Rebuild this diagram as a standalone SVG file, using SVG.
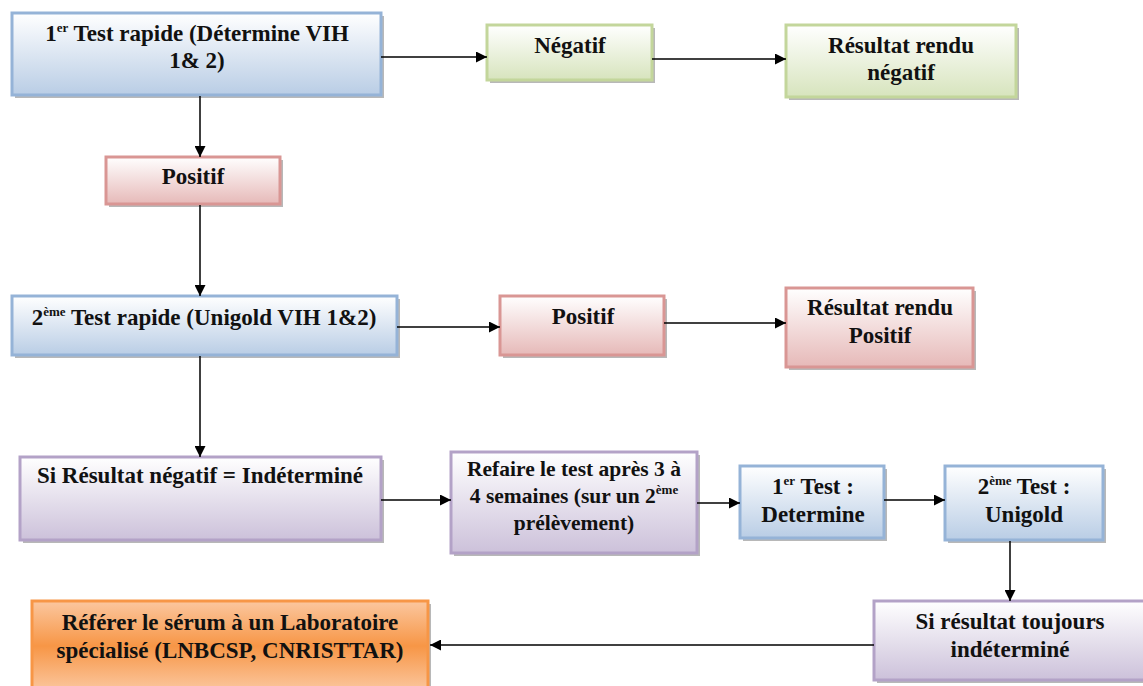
<svg xmlns="http://www.w3.org/2000/svg" width="1143" height="686" viewBox="0 0 1143 686">
<defs>
<linearGradient id="gBlue" x1="0" y1="0" x2="0" y2="1"><stop offset="0" stop-color="#ffffff"/><stop offset="1" stop-color="#b9cde5"/></linearGradient>
<linearGradient id="gGreen" x1="0" y1="0" x2="0" y2="1"><stop offset="0" stop-color="#ffffff"/><stop offset="1" stop-color="#d7e4bd"/></linearGradient>
<linearGradient id="gPink" x1="0" y1="0" x2="0" y2="1"><stop offset="0" stop-color="#ffffff"/><stop offset="1" stop-color="#e6b9b8"/></linearGradient>
<linearGradient id="gPurple" x1="0" y1="0" x2="0" y2="1"><stop offset="0" stop-color="#ffffff"/><stop offset="1" stop-color="#ccc1da"/></linearGradient>
<linearGradient id="gOrange" x1="0" y1="0" x2="0" y2="1"><stop offset="0" stop-color="#fbc79f"/><stop offset="0.5" stop-color="#f79646"/><stop offset="1" stop-color="#fbc79f"/></linearGradient>
<marker id="arr" viewBox="0 0 10 10" refX="10" refY="5" markerWidth="11" markerHeight="11" markerUnits="userSpaceOnUse" orient="auto"><path d="M0,0 L10,5 L0,10 z" fill="#000"/></marker>
</defs>
<style>
.sh{fill:#9a9a9a;opacity:0.7}
.blue{fill:url(#gBlue);stroke:#95b3d7;stroke-width:3}
.green{fill:url(#gGreen);stroke:#c3d69b;stroke-width:3}
.pink{fill:url(#gPink);stroke:#d99694;stroke-width:3}
.purple{fill:url(#gPurple);stroke:#b3a2c7;stroke-width:3}
.orange{fill:url(#gOrange);stroke:#f79646;stroke-width:3}
.t{font-family:"Liberation Serif","Times New Roman",serif;font-weight:bold;font-size:23px;fill:#111;text-anchor:middle}
.s{font-size:21.5px}
.sup{font-size:13px}
.c{stroke:#000;stroke-width:1.5;fill:none;marker-end:url(#arr)}
</style>
<rect width="1143" height="686" fill="#fff"/>

<g id="n1">
<rect class="sh" x="15" y="16" width="369" height="82"/>
<rect class="blue" x="12" y="13" width="369" height="82"/>
<text class="t" x="197" y="41">1<tspan class="sup" dy="-9">er</tspan><tspan dy="9"> Test rapide (Détermine VIH</tspan></text>
<text class="t" x="197" y="68">1&amp; 2)</text>
</g>

<g id="n2">
<rect class="sh" x="490" y="28" width="165" height="55"/>
<rect class="green" x="487" y="25" width="165" height="55"/>
<text class="t" x="570" y="53">Négatif</text>
</g>

<g id="n3">
<rect class="sh" x="789" y="28" width="230" height="72"/>
<rect class="green" x="786" y="25" width="230" height="72"/>
<text class="t" x="901" y="53">Résultat rendu</text>
<text class="t" x="901" y="80">négatif</text>
</g>

<g id="n4">
<rect class="sh" x="109" y="160" width="174" height="47"/>
<rect class="pink" x="106" y="157" width="174" height="47"/>
<text class="t" x="193" y="184">Positif</text>
</g>

<g id="n5">
<rect class="sh" x="15" y="299" width="385" height="59"/>
<rect class="blue" x="12" y="296" width="385" height="59"/>
<text class="t" x="204" y="325">2<tspan class="sup" dy="-9">ème</tspan><tspan dy="9"> Test rapide (Unigold VIH 1&amp;2)</tspan></text>
</g>

<g id="n6">
<rect class="sh" x="503" y="299" width="164" height="59"/>
<rect class="pink" x="500" y="296" width="164" height="59"/>
<text class="t" x="583" y="324">Positif</text>
</g>

<g id="n7">
<rect class="sh" x="789" y="291" width="187" height="79"/>
<rect class="pink" x="786" y="288" width="187" height="79"/>
<text class="t" x="880" y="315">Résultat rendu</text>
<text class="t" x="880" y="343">Positif</text>
</g>

<g id="n8">
<rect class="sh" x="23" y="460" width="361" height="83"/>
<rect class="purple" x="20" y="457" width="361" height="83"/>
<text class="t" x="200" y="483">Si Résultat négatif = Indéterminé</text>
</g>

<g id="n9">
<rect class="sh" x="454" y="455" width="246" height="101"/>
<rect class="purple" x="451" y="452" width="246" height="101"/>
<text class="t s" x="574" y="476">Refaire le test après 3 à</text>
<text class="t s" x="574" y="503">4 semaines (sur un 2<tspan class="sup" dy="-9">ème</tspan></text>
<text class="t s" x="574" y="530">prélèvement)</text>
</g>

<g id="n10">
<rect class="sh" x="743" y="469" width="144" height="72"/>
<rect class="blue" x="740" y="466" width="144" height="72"/>
<text class="t" x="813" y="494">1<tspan class="sup" dy="-9">er</tspan><tspan dy="9"> Test :</tspan></text>
<text class="t" x="813" y="522">Determine</text>
</g>

<g id="n11">
<rect class="sh" x="948" y="469" width="158" height="74"/>
<rect class="blue" x="945" y="466" width="158" height="74"/>
<text class="t" x="1024" y="494">2<tspan class="sup" dy="-9">ème</tspan><tspan dy="9"> Test :</tspan></text>
<text class="t" x="1024" y="522">Unigold</text>
</g>

<g id="n12">
<rect class="sh" x="877" y="604" width="270" height="79"/>
<rect class="purple" x="874" y="601" width="272" height="79"/>
<text class="t" x="1010" y="629">Si résultat toujours</text>
<text class="t" x="1010" y="657">indéterminé</text>
</g>

<g id="n13">
<rect class="sh" x="35" y="604" width="396" height="90"/>
<rect class="orange" x="32" y="601" width="396" height="90"/>
<text class="t" x="230" y="630">Référer le sérum à un Laboratoire</text>
<text class="t" x="230" y="658">spécialisé (LNBCSP, CNRISTTAR)</text>
</g>

<g id="connectors">
<line class="c" x1="381" y1="57" x2="487" y2="57"/>
<line class="c" x1="652" y1="59" x2="786" y2="59"/>
<line class="c" x1="200" y1="96" x2="200" y2="157"/>
<line class="c" x1="200" y1="205" x2="200" y2="296"/>
<line class="c" x1="397" y1="327" x2="500" y2="327"/>
<line class="c" x1="664" y1="323" x2="786" y2="323"/>
<line class="c" x1="200" y1="356" x2="200" y2="457"/>
<line class="c" x1="381" y1="500" x2="451" y2="500"/>
<line class="c" x1="697" y1="503" x2="740" y2="503"/>
<line class="c" x1="884" y1="500" x2="945" y2="500"/>
<line class="c" x1="1010" y1="541" x2="1010" y2="601"/>
<line class="c" x1="874" y1="645" x2="430" y2="645"/>
</g>
</svg>
